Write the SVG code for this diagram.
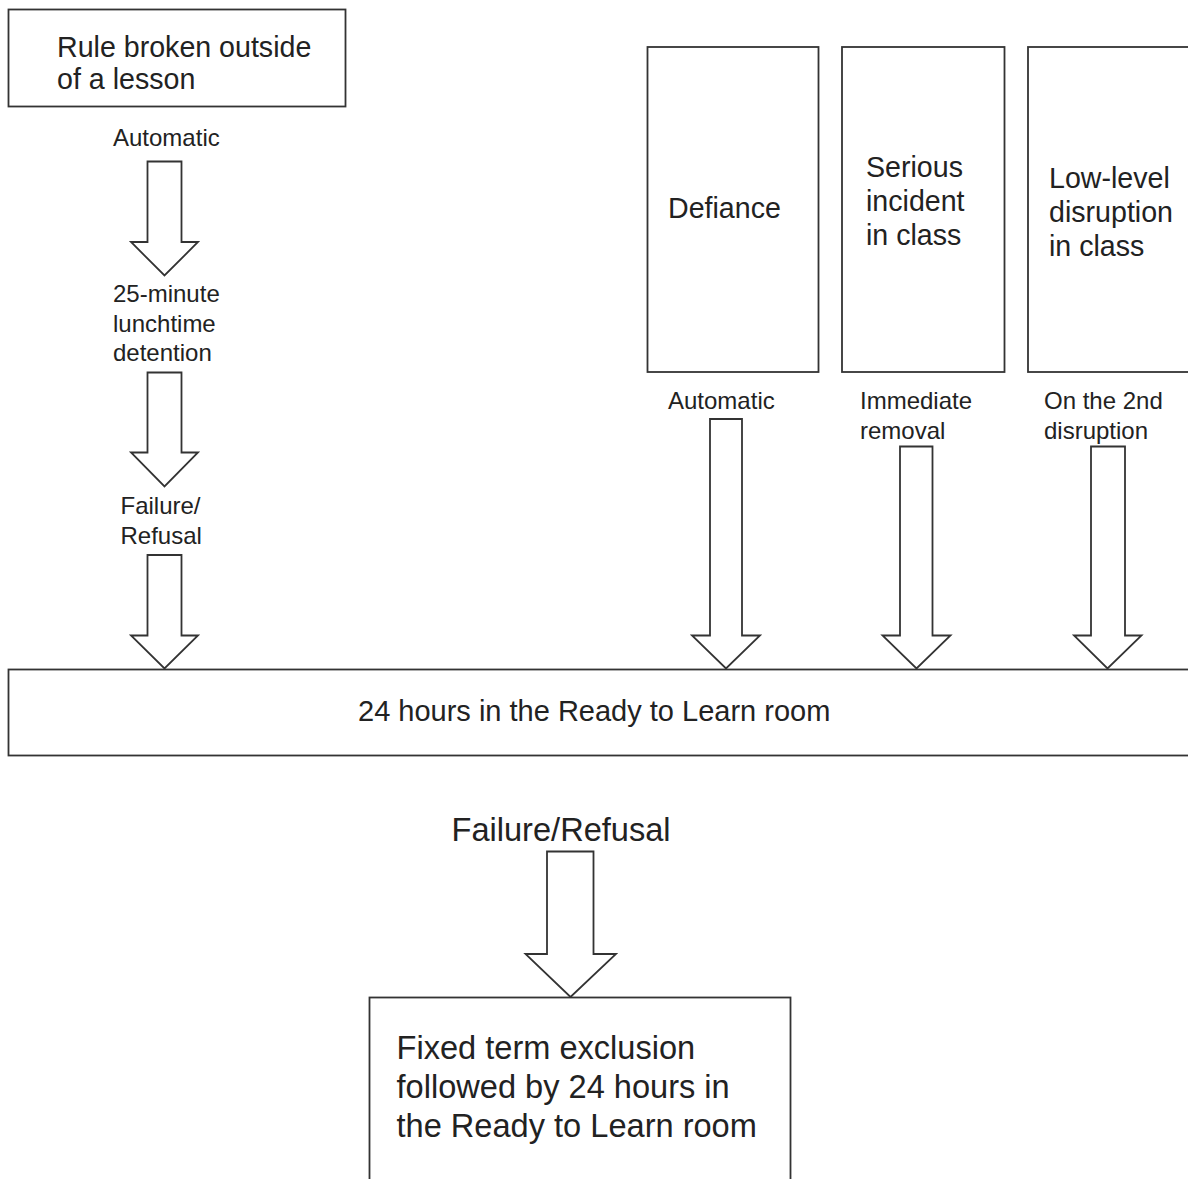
<svg xmlns="http://www.w3.org/2000/svg" width="1188" height="1179" viewBox="0 0 1188 1179">
<style>
.box{fill:#fff;stroke:#333;stroke-width:1.8}
.arr{fill:#fff;stroke:#333;stroke-width:1.8;stroke-linejoin:miter}
text{font-family:"Liberation Sans",Arial,sans-serif;fill:#222}
.l{font-size:28.6px}
.s{font-size:24px}
.xl{font-size:32.6px}
</style>
<rect width="1188" height="1179" fill="#fff"/>
<g id="connectors">
<polygon class="arr" points="147.5,161.5 181.5,161.5 181.5,242 198,242 164.5,275.5 131,242 147.5,242"/>
<polygon class="arr" points="147.5,372.5 181.5,372.5 181.5,452.5 198,452.5 164.5,486.5 131,452.5 147.5,452.5"/>
<polygon class="arr" points="147.5,555 181.5,555 181.5,635.5 198,635.5 164.5,668.5 131,635.5 147.5,635.5"/>
<polygon class="arr" points="710,419 742,419 742,635.5 760,635.5 726,668.5 692,635.5 710,635.5"/>
<polygon class="arr" points="900,446.5 932.5,446.5 932.5,635.5 950.5,635.5 916.5,668.5 882.5,635.5 900,635.5"/>
<polygon class="arr" points="1091,446.5 1125,446.5 1125,635.5 1141.5,635.5 1107.5,668.5 1074,635.5 1091,635.5"/>
<polygon class="arr" points="547,851.5 593.5,851.5 593.5,954 616,954 570.5,997 525.5,954 547,954"/>
</g>
<g id="labels">
<text class="s" x="113" y="146">Automatic</text>
<text class="s" x="113" y="302">25-minute</text>
<text class="s" x="113" y="332">lunchtime</text>
<text class="s" x="113" y="361">detention</text>
<text class="s" x="120.5" y="514">Failure/</text>
<text class="s" x="120.5" y="544">Refusal</text>
<text class="s" x="668" y="409">Automatic</text>
<text class="s" x="860" y="409">Immediate</text>
<text class="s" x="860" y="439">removal</text>
<text class="s" x="1044" y="409">On the 2nd</text>
<text class="s" x="1044" y="439">disruption</text>
<text class="xl" x="451.5" y="841">Failure/Refusal</text>
</g>
<g id="rule-broken">
<rect class="box" x="8.5" y="9.5" width="337" height="97"/>
<text class="l" x="57" y="57">Rule broken outside</text>
<text class="l" x="57" y="89">of a lesson</text>
</g>
<g id="defiance">
<rect class="box" x="647.5" y="47" width="171" height="325"/>
<text class="l" x="668" y="218">Defiance</text>
</g>
<g id="serious">
<rect class="box" x="842" y="47" width="162.5" height="325"/>
<text class="l" x="866" y="177">Serious</text>
<text class="l" x="866" y="211">incident</text>
<text class="l" x="866" y="245">in class</text>
</g>
<g id="low-level">
<rect class="box" x="1028" y="47" width="200" height="325"/>
<text class="l" x="1049" y="188">Low-level</text>
<text class="l" x="1049" y="222">disruption</text>
<text class="l" x="1049" y="256">in class</text>
</g>
<g id="ready-to-learn">
<rect class="box" x="8.5" y="669.5" width="1200" height="86"/>
<text class="l" x="358" y="721" style="font-size:29px">24 hours in the Ready to Learn room</text>
</g>
<g id="exclusion">
<rect class="box" x="369.5" y="997.5" width="421" height="220"/>
<text class="xl" x="396.5" y="1059">Fixed term exclusion</text>
<text class="xl" x="396.5" y="1098">followed by 24 hours in</text>
<text class="xl" x="396.5" y="1137">the Ready to Learn room</text>
</g>
</svg>
